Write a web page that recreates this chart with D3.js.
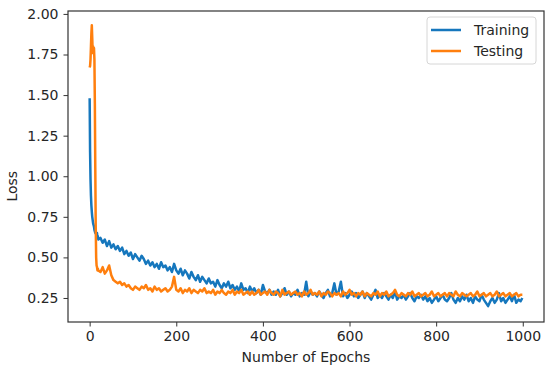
<!DOCTYPE html>
<html>
<head>
<meta charset="utf-8">
<script src="https://cdn.jsdelivr.net/npm/d3@7"></script>
<style>
  body { margin: 0; background: #fff; }
  text { font-family: "DejaVu Sans", sans-serif; fill: #262626; }
  .axis path, .axis line { stroke: #333; }
</style>
</head>
<body>
<script>
// sampled epochs (every epoch at the start, every 5 afterwards)
var epochs = d3.range(0, 21).concat(d3.range(25, 1000, 5), [999]);

// training loss
var training = [
  1.48, 1.15, 0.98, 0.88, 0.82, 0.78, 0.75, 0.73, 0.71, 0.70, 0.69,
  0.67, 0.66, 0.65, 0.66, 0.64, 0.63, 0.65, 0.62, 0.63, 0.61,
  0.62, 0.59, 0.61, 0.57, 0.60, 0.56, 0.58, 0.55, 0.57, 0.54,
  0.56, 0.52, 0.54, 0.51, 0.53, 0.49, 0.52, 0.50, 0.48, 0.51,
  0.49, 0.46, 0.48, 0.45, 0.47, 0.44, 0.46, 0.43, 0.47, 0.44,
  0.45, 0.42, 0.44, 0.41, 0.46, 0.42, 0.40, 0.43, 0.39, 0.42,
  0.40, 0.37, 0.41, 0.38, 0.36, 0.39, 0.35, 0.38, 0.36, 0.34,
  0.37, 0.34, 0.35, 0.32, 0.36, 0.33, 0.31, 0.34, 0.32, 0.35,
  0.31, 0.33, 0.30, 0.32, 0.29, 0.34, 0.30, 0.31, 0.28, 0.32,
  0.29, 0.31, 0.28, 0.30, 0.27, 0.33, 0.29, 0.28, 0.30, 0.27,
  0.29, 0.27, 0.30, 0.26, 0.28, 0.31, 0.27, 0.29, 0.26, 0.28,
  0.27, 0.30, 0.26, 0.28, 0.27, 0.35, 0.26, 0.29, 0.27, 0.28,
  0.26, 0.29, 0.27, 0.25, 0.28, 0.30, 0.26, 0.28, 0.34, 0.27,
  0.29, 0.35, 0.26, 0.28, 0.25, 0.27, 0.29, 0.26, 0.28, 0.25,
  0.27, 0.29, 0.25, 0.28, 0.26, 0.24, 0.27, 0.30, 0.25, 0.27,
  0.25, 0.28, 0.26, 0.24, 0.27, 0.25, 0.29, 0.24, 0.26, 0.25,
  0.27, 0.24, 0.26, 0.28, 0.25, 0.23, 0.26, 0.25, 0.27, 0.24,
  0.26, 0.23, 0.25, 0.22, 0.24, 0.26, 0.23, 0.25, 0.27, 0.24,
  0.23, 0.25, 0.28, 0.24, 0.22, 0.25, 0.23, 0.26, 0.24, 0.27,
  0.23, 0.25, 0.22, 0.26, 0.24, 0.23, 0.27, 0.24, 0.22, 0.20,
  0.23, 0.25, 0.22, 0.24, 0.28, 0.23, 0.25, 0.22, 0.24, 0.26,
  0.23, 0.27, 0.22, 0.24, 0.23, 0.25
];

// testing loss
var testing = [
  1.67, 1.68, 1.72, 1.80, 1.88, 1.93, 1.85, 1.76, 1.80, 1.78, 1.79,
  1.72, 1.45, 1.05, 0.70, 0.50, 0.45, 0.44, 0.42, 0.43, 0.42,
  0.41, 0.44, 0.40, 0.42, 0.45, 0.39, 0.36, 0.35, 0.34, 0.35,
  0.33, 0.34, 0.32, 0.33, 0.31, 0.30, 0.32, 0.31, 0.30, 0.32,
  0.31, 0.33, 0.30, 0.31, 0.29, 0.32, 0.30, 0.31, 0.29, 0.30,
  0.31, 0.29, 0.30, 0.32, 0.38, 0.30, 0.29, 0.31, 0.28, 0.30,
  0.29, 0.31, 0.28, 0.30, 0.29, 0.28, 0.30, 0.29, 0.31, 0.28,
  0.29, 0.28, 0.30, 0.27, 0.29, 0.28, 0.30, 0.28, 0.27, 0.29,
  0.28, 0.30, 0.27, 0.29, 0.28, 0.30, 0.27, 0.28, 0.29, 0.27,
  0.29, 0.27, 0.28, 0.30, 0.27, 0.28, 0.29, 0.27, 0.30, 0.28,
  0.27, 0.29, 0.28, 0.26, 0.30, 0.27, 0.28, 0.29, 0.27, 0.28,
  0.29, 0.27, 0.28, 0.26, 0.29, 0.27, 0.28, 0.30, 0.27, 0.28,
  0.27, 0.29, 0.26, 0.28, 0.27, 0.29, 0.28, 0.26, 0.28, 0.27,
  0.28, 0.26, 0.29, 0.27, 0.28, 0.30, 0.27, 0.28, 0.26, 0.28,
  0.27, 0.29, 0.26, 0.28, 0.27, 0.26, 0.28, 0.27, 0.29, 0.26,
  0.28, 0.27, 0.29, 0.26, 0.27, 0.28, 0.30, 0.27, 0.26, 0.28,
  0.27, 0.26, 0.28, 0.27, 0.29, 0.26, 0.27, 0.28, 0.26, 0.27,
  0.28, 0.26, 0.27, 0.29, 0.26, 0.27, 0.28, 0.26, 0.27, 0.28,
  0.26, 0.28, 0.27, 0.26, 0.29, 0.27, 0.26, 0.28, 0.27, 0.26,
  0.27, 0.28, 0.26, 0.27, 0.29, 0.26, 0.27, 0.28, 0.26, 0.27,
  0.28, 0.26, 0.27, 0.29, 0.26, 0.27, 0.28, 0.26, 0.27, 0.28,
  0.26, 0.27, 0.28, 0.26, 0.27, 0.27
];

var xTicks = [0, 200, 400, 600, 800, 1000];
var yTicks = [0.25, 0.50, 0.75, 1.00, 1.25, 1.50, 1.75, 2.00];
var seriesNames = ["Training", "Testing"];
var colors = ["#1677bd", "#ff7f0e"];

// set the dimensions and margins of the graph
var margin = {top: 11, right: 6, bottom: 48, left: 68},
    width = 550 - margin.left - margin.right,
    height = 370 - margin.top - margin.bottom;

var x = d3.scaleLinear().domain([-50, 1049]).range([0, width]);
var y = d3.scaleLinear().domain([0.102, 2.018]).range([height, 0]);

var line = d3.line()
    .x(function(d) { return x(d[0]); })
    .y(function(d) { return y(d[1]); });

var svg = d3.select("body").append("svg")
    .attr("width", 550)
    .attr("height", 370)
  .append("g")
    .attr("transform", "translate(" + margin.left + "," + margin.top + ")");

// the two loss curves, training first so testing sits on top
[training, testing].forEach(function(values, i) {
  svg.append("path")
      .datum(epochs.map(function(e, j) { return [e, values[j]]; }))
      .attr("fill", "none")
      .attr("stroke", colors[i])
      .attr("stroke-width", 2.5)
      .attr("stroke-linejoin", "round")
      .attr("d", line);
});

// x axis
var xAxis = svg.append("g")
    .attr("class", "axis")
    .attr("transform", "translate(0," + height + ")")
    .call(d3.axisBottom(x).tickValues(xTicks).tickSize(4.5).tickPadding(5).tickFormat(d3.format("d")));
xAxis.selectAll("text").style("font-size", "14px");

// y axis
var yAxis = svg.append("g")
    .attr("class", "axis")
    .call(d3.axisLeft(y).tickValues(yTicks).tickSize(4.5).tickPadding(5).tickFormat(d3.format(".2f")));
yAxis.selectAll("text").style("font-size", "14px");

xAxis.select(".domain").remove();
yAxis.select(".domain").remove();

// frame around the plot
svg.append("rect")
    .attr("width", width)
    .attr("height", height)
    .attr("fill", "none")
    .attr("stroke", "#333")
    .attr("stroke-width", 1.2);

// axis labels
svg.append("text")
    .attr("x", width / 2)
    .attr("y", height + 40)
    .style("text-anchor", "middle")
    .style("font-size", "14px")
    .text("Number of Epochs");

svg.append("text")
    .attr("transform", "rotate(-90)")
    .attr("x", -(y(1.0) + 10))
    .attr("y", -margin.left + 17)
    .style("text-anchor", "middle")
    .style("font-size", "14px")
    .text("Loss");

// legend
var legend = svg.append("g")
    .attr("transform", "translate(" + (width - 117) + ",6)");

legend.append("rect")
    .attr("width", 109)
    .attr("height", 47)
    .attr("rx", 3)
    .attr("fill", "#fff")
    .attr("fill-opacity", 0.8)
    .attr("stroke", "#d6d6d6");

seriesNames.forEach(function(name, i) {
  legend.append("line")
      .attr("x1", 4).attr("x2", 34)
      .attr("y1", 13 + i * 21).attr("y2", 13 + i * 21)
      .attr("stroke", colors[i])
      .attr("stroke-width", 2.5);
  legend.append("text")
      .attr("x", 47)
      .attr("y", 13 + i * 21)
      .attr("dy", "0.35em")
      .style("font-size", "14px")
      .text(name);
});
</script>
</body>
</html>
